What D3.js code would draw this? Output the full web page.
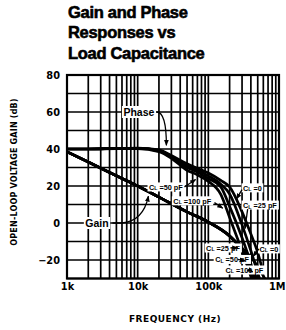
<!DOCTYPE html>
<html><head><meta charset="utf-8">
<script src="https://cdn.jsdelivr.net/npm/d3@7"></script>
<style>
html,body{margin:0;padding:0;background:#fff;}
svg{display:block;}
</style></head>
<body>
<svg id="c" width="286" height="330"></svg>
<script>
// ---------- data ----------
const titleLines = ["Gain and Phase", "Responses vs", "Load Capacitance"];
const yTicks = [-20, 0, 20, 40, 60, 80];
const xTicks = [1e3, 1e4, 1e5, 1e6];
const xTickLabels = ["1k", "10k", "100k", "1M"];
const xTitle = "FREQUENCY (Hz)";
const yTitle = "OPEN-LOOP VOLTAGE GAIN (dB)";

const phaseFreq = [1e3, 2e3, 5e3, 1e4, 2e4, 3e4, 5e4, 7e4, 1e5, 1.5e5, 2e5, 3e5, 4e5, 5e5, 6e5];
const phaseCL0   = [40, 40, 40.3, 40.5, 39.5, 36.5, 32, 29.5, 27, 23, 19.5, 6, -6, -16, -27];
const phaseCL25  = [40, 40, 40.3, 40.4, 39.2, 36, 31, 28.5, 25.5, 21, 15.7, -1, -15, -27, -36];
const phaseCL50  = [40, 40, 40.3, 40.3, 39, 35.5, 30, 27.5, 24, 19.5, 9, -8, -22, -36, -40];
const phaseCL100 = [40, 40, 40.2, 40.2, 38.5, 35, 28.5, 26, 22.5, 15.5, 3, -15, -28, -40, -40];

const gainFreq = [1e3, 2e3, 5e3, 1e4, 2e4, 5e4, 1e5, 2e5, 2.5e5, 3e5, 4e5, 5e5, 6.5e5];
const gainCL0   = [38.5, 33, 25.5, 20, 14, 6, 0.5, -7, -10.5, -13.5, -18.5, -23.5, -31];
const gainCL25  = [38.5, 33, 25.5, 20, 14, 6, 0.5, -7, -10.6, -14, -23, -31, -40];
const gainCL50  = [38.5, 33, 25.5, 20, 14, 6, 0.5, -7, -10.8, -14.5, -26.5, -38, -45];
const gainCL100 = [38.5, 33, 25.5, 20, 14, 6, 0.5, -7, -11, -15.5, -29, -40, -50];

// ---------- layout ----------
const svg = d3.select("#c");
const x = d3.scaleLog().domain([1e3, 1e6]).range([67, 279]);
const y = d3.scaleLinear().domain([-30, 80]).range([278.5, 75]);

// title
svg.append("g").selectAll("text").data(titleLines).join("text")
  .attr("x", 68).attr("y", (d, i) => 17.5 + i * 20.5)
  .attr("font-family", "Liberation Sans, Arial, sans-serif")
  .attr("font-weight", "bold").attr("font-size", 16.5)
  .attr("letter-spacing", -0.3)
  .attr("stroke", "#000").attr("stroke-width", 0.6)
  .text(d => d);

// grid
const grid = svg.append("g").attr("stroke", "#000").attr("stroke-width", 1.7);
grid.selectAll("line.v").data(x.ticks()).join("line")
  .attr("x1", d => x(d)).attr("x2", d => x(d))
  .attr("y1", y(80)).attr("y2", y(-30));
grid.selectAll("line.h").data(y.ticks(11)).join("line")
  .attr("x1", x(1e3)).attr("x2", x(1e6))
  .attr("y1", d => y(d)).attr("y2", d => y(d));
svg.append("rect").attr("x", x(1e3)).attr("y", y(80))
  .attr("width", x(1e6) - x(1e3)).attr("height", y(-30) - y(80))
  .attr("fill", "none").attr("stroke", "#000").attr("stroke-width", 2.2);

// axes
const yAxis = svg.append("g").attr("transform", `translate(${x(1e3)},0)`)
  .call(d3.axisLeft(y).tickValues(yTicks).tickSize(0).tickPadding(7).tickFormat(d => d < 0 ? "\u2212" + (-d) : d));
const xAxis = svg.append("g").attr("transform", `translate(0,${y(-30)})`)
  .call(d3.axisBottom(x).tickValues(xTicks).tickSize(0).tickPadding(5).tickFormat((d, i) => xTickLabels[i]));
[yAxis, xAxis].forEach(a => {
  a.select(".domain").remove();
  a.selectAll("text").attr("font-family", "DejaVu Sans, sans-serif").attr("font-weight", "bold")
    .attr("font-size", 9.8).attr("fill", "#000");
});
// keep the last x label inside the window
xAxis.selectAll("text").filter(d => d === 1e6).attr("text-anchor", "end").attr("dx", 6);

svg.append("text").attr("x", 175).attr("y", 322).attr("text-anchor", "middle")
  .attr("font-family", "DejaVu Sans, sans-serif").attr("font-weight", "bold").attr("font-size", 9)
  .attr("letter-spacing", 0.5)
  .text(xTitle);
svg.append("text").attr("transform", "translate(17,172) rotate(-90)").attr("text-anchor", "middle")
  .attr("font-family", "DejaVu Sans, sans-serif").attr("font-weight", "bold").attr("font-size", 8)
  .attr("letter-spacing", 0.2)
  .text(yTitle);

// curves
svg.append("clipPath").attr("id", "clip").append("rect")
  .attr("x", x(1e3)).attr("y", y(80)).attr("width", x(1e6) - x(1e3)).attr("height", y(-30) - y(80));
const line = d3.line().x(d => x(d[0])).y(d => y(d[1])).curve(d3.curveMonotoneX);
const series = [
  [phaseFreq, phaseCL0], [phaseFreq, phaseCL25], [phaseFreq, phaseCL50], [phaseFreq, phaseCL100],
  [gainFreq, gainCL0], [gainFreq, gainCL25], [gainFreq, gainCL50], [gainFreq, gainCL100]
];
svg.append("g").attr("clip-path", "url(#clip)").selectAll("path").data(series).join("path")
  .attr("d", s => line(s[0].map((f, i) => [f, s[1][i]])))
  .attr("fill", "none").attr("stroke", "#000").attr("stroke-width", 2.7);

// annotations
svg.append("defs").append("marker").attr("id", "ah").attr("viewBox", "0 0 10 10")
  .attr("refX", 9).attr("refY", 5).attr("markerWidth", 6).attr("markerHeight", 6)
  .attr("markerUnits", "userSpaceOnUse").attr("orient", "auto")
  .append("path").attr("d", "M0,1 L10,5 L0,9 Z").attr("fill", "#000");

const ann = svg.append("g");
function label(txt, sub, rest, px, py, anchor, size) {
  const g = ann.append("g");
  const bg = g.append("rect").attr("fill", "#fff");
  const t = g.append("text").attr("x", px).attr("y", py).attr("text-anchor", anchor)
    .attr("dominant-baseline", "central")
    .attr("font-family", "Liberation Sans, Arial, sans-serif").attr("font-weight", "bold")
    .attr("font-size", size);
  t.append("tspan").text(txt);
  if (sub) {
    t.append("tspan").attr("font-size", size * 0.7).attr("dy", 1.5).text(sub);
    t.append("tspan").attr("dy", -1.5).text(rest);
  }
  const b = t.node().getBBox();
  bg.attr("x", b.x - 1.5).attr("y", b.y).attr("width", b.width + 3).attr("height", b.height);
}
function arrow(d) {
  ann.append("path").attr("d", d).attr("fill", "none").attr("stroke", "#000")
    .attr("stroke-width", 1.3).attr("marker-end", "url(#ah)");
}
const P = (f, v) => [x(f), y(v)];

// Phase
label("Phase", null, null, ...P(1.04e4, 60), "middle", 10.5);
{ const a = P(1.85e4, 60), c = P(2.55e4, 60), e = P(2.55e4, 42);
  arrow(`M${a}Q${c} ${e}`); }
// Gain
label("Gain", null, null, ...P(2.66e3, 0), "middle", 10.5);
{ const a = P(4.4e3, 0), b = P(6e3, 0), c = P(1.2e4, 1), e = P(1.42e4, 14.5);
  arrow(`M${a}L${b}Q${c} ${e}`); }

const fs = 7.3;
// phase CL labels
label("C", "L", " =50 pF", ...P(4.35e4, 19.5), "end", fs);
arrow(`M${P(4.6e4, 19.5)}L${P(6.6e4, 23.5)}`);
label("C", "L", " =100 pF", ...P(3.2e4, 12), "start", fs);
arrow(`M${P(1.22e5, 11)}L${P(1.6e5, 8)}`);
label("C", "L", " =0", ...P(3.1e5, 19), "start", fs);
arrow(`M${P(3.0e5, 18)}L${P(2.5e5, 13)}`);
label("C", "L", " =25 pF", ...P(3.1e5, 9.7), "start", fs);
arrow(`M${P(3.6e5, 7.5)}L${P(3.3e5, -3)}`);
// gain CL labels
label("C", "L", " =25 pF", ...P(9.3e4, -13.5), "start", fs);
arrow(`M${P(2.05e5, -13.5)}L${P(2.6e5, -13.3)}`);
label("C", "L", " =50 pF", ...P(1.25e5, -19.7), "start", fs);
arrow(`M${P(2.6e5, -19.7)}L${P(3.3e5, -20.5)}`);
label("C", "L", " =100 pF", ...P(1.75e5, -25.4), "start", fs);
arrow(`M${P(3.8e5, -25.4)}L${P(4.25e5, -26.5)}`);
label("C", "L", " =0", ...P(5.3e5, -14), "start", fs);
arrow(`M${P(5.2e5, -14)}L${P(4.3e5, -18)}`);
</script>
</body></html>
